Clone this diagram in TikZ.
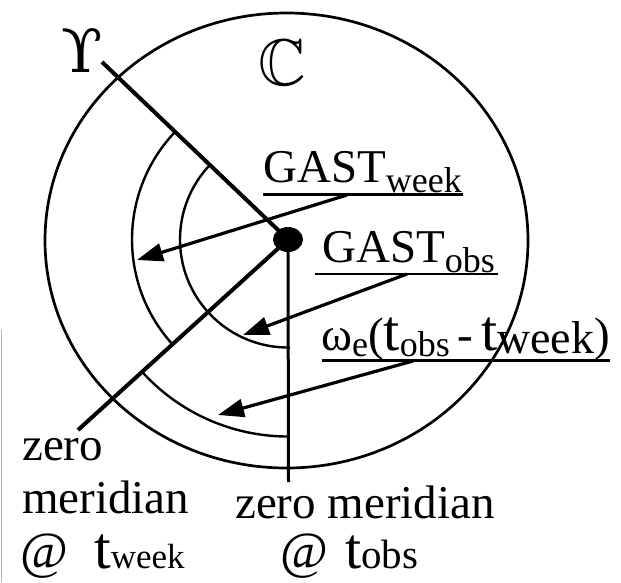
\documentclass[tikz,border=0pt]{standalone}
\usepackage{fontspec}
\setmainfont{Liberation Serif}
\newfontfamily\dvserif{DejaVu Serif}
\usepackage{amssymb}
\usetikzlibrary{arrows.meta,shapes.geometric}
\newcommand{\fsz}[1]{\fontsize{#1}{#1}\selectfont}
\newcommand{\lowr}[3]{\raisebox{-#1pt}{\fsz{#2}#3}}
\begin{document}
\begin{tikzpicture}[x=1pt,y=-1pt,
  outerline/.style={line width=2.7pt},
  arcline/.style={line width=2.4pt},
  radline/.style={line width=4pt},
  merline/.style={line width=3pt},
  pointer/.style={line width=3.2pt,-{Triangle[length=26pt,width=18pt]}},
  lbl/.style={inner sep=0pt,anchor=base west},
  uline/.style={line width=2.7pt}]
\useasboundingbox (0,0) rectangle (621,582);
\fill[white] (0,0) rectangle (621,582);

\coordinate (ctr) at (288,239.5);
\coordinate (aries end) at (102,62);
\coordinate (week end) at (78,430);
\coordinate (obs end) at (288.5,482);

% outer circle
\draw[outerline] (286.5,240.5) ellipse [x radius=241.5,y radius=227.5];

% radial lines
\draw[radline] (ctr) -- (aries end);
\draw[radline] (ctr) -- (week end);
\draw[merline] (ctr) -- (obs end);

% arcs
\draw[arcline] ([shift={(89:108)}]ctr) arc[start angle=89,end angle=223.7,radius=108];
\draw[arcline] ([shift={(137.8:156)}]ctr) arc[start angle=137.8,end angle=223.7,radius=156];
\draw[arcline] ([shift={(90:197)}]ctr) arc[start angle=90,end angle=137.8,radius=197];

% centre dot
\node[ellipse,fill,inner sep=0pt,minimum width=30pt,minimum height=25pt] (dot) at (ctr) {};

% symbols
\node[inner sep=0pt] (aries) at (82,50) {\dvserif\fsz{60}ϒ};
\node[inner sep=0pt] (cset) at (282,63) {\fsz{66}$\mathbb{C}$};

% labels
\node[lbl] (gastweek) at (263,182) {\fsz{47}GAST\lowr{10}{36}{week}};
\node[lbl] (gastobs) at (322,262) {\fsz{47}GAST\lowr{10}{36}{obs}};
\node[lbl] (omega) at (321,350) {\fsz{47}ω\lowr{6}{36}{e}(\fsz{58}t\lowr{6}{36}{obs}\fsz{47}\,-\,\fsz{58}t\lowr{3}{46}{week}\fsz{47})};

\draw[uline] (263,194.5) -- (463,194.5);
\draw[uline] (315,274) -- (498,274);
\draw[uline] (322,360.5) -- (610,360.5);

% arrows
\coordinate (gw tail) at (347,195);
\coordinate (gw tip) at (137,260);
\coordinate (go tail) at (407,274);
\coordinate (go tip) at (243,335);
\coordinate (om tail) at (413,361);
\coordinate (om tip) at (218,415);
\draw[pointer] (gw tail) -- (gw tip);
\draw[pointer] (go tail) -- (go tip);
\draw[pointer] (om tail) -- (om tip);

% bottom labels
\node[lbl] (zw1) at (22,460) {\fsz{47}zero};
\node[lbl] (zw2) at (22,513) {\fsz{47}meridian};
\node[lbl] (zw3) at (20,568) {\fsz{52}@\hspace*{26pt}\fsz{60}t\fsz{35}week};
\node[lbl] (zo1) at (235,518) {\fsz{47}zero meridian};
\node[lbl] (zo2) at (280,568) {\fsz{52}@\hspace*{17pt}\fsz{58}t\fsz{41}obs};

% scan edge
\draw[gray!60,line width=1.2pt] (1.5,330) -- (1.5,582);
\end{tikzpicture}
\end{document}
